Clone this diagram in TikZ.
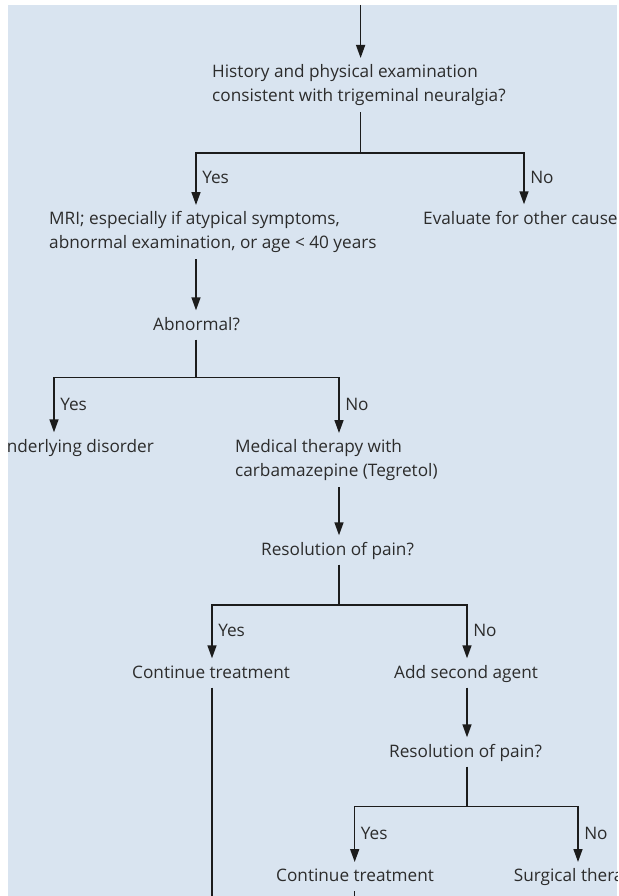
\documentclass[tikz,border=0pt]{standalone}
\usepackage{fontspec}
\setmainfont{Open Sans}
\usepackage{xcolor}
\usetikzlibrary{arrows.meta}
\definecolor{panelblue}{HTML}{D9E4F0}
\definecolor{textgray}{HTML}{2C2C2C}
\definecolor{linegray}{HTML}{1C1C1C}

\begin{document}
\begin{tikzpicture}[
  x=1pt, y=-1pt,
  every node/.style={font=\fontsize{17.2}{24.5}\selectfont, text=textgray, inner xsep=0pt},
  step1/.style={anchor=base west, text height=12.3pt, text depth=2.3pt, inner ysep=7.2pt},
  stepml/.style={anchor=north west, align=left, inner ysep=6pt},
  lbl/.style={anchor=west, xshift=5.5pt, text height=12.3pt, text depth=2.3pt, inner sep=0pt},
  line/.style={line width=1.5pt, draw=linegray},
  arr/.style={line, -{Triangle[length=13pt, width=9pt]}},
]
\useasboundingbox (0,0) rectangle (618,896);
\fill[white] (0,0) rectangle (618,896);
\fill[panelblue] (8,5) rectangle (617,896);

\begin{scope}
\clip (8,5) rectangle (617,896);

\node[stepml] (hist) at (212,58) {History and physical examination\\consistent with trigeminal neuralgia?};
\node[stepml] (mri) at (49,205) {MRI; especially if atypical symptoms,\\abnormal examination, or age < 40 years};
\node[step1] (other) at (423,224) {Evaluate for other cause};
\node[step1] (abn) at (153,330) {Abnormal?};
\node[step1, anchor=base east] (under) at (154,452) {nderlying disorder};
\node[stepml] (med) at (235,433) {Medical therapy with\\carbamazepine (Tegretol)};
\node[step1] (res1) at (261,555) {Resolution of pain?};
\node[step1] (cont1) at (132,678) {Continue treatment};
\node[step1] (add) at (394,678) {Add second agent};
\node[step1] (res2) at (389,757) {Resolution of pain?};
\node[step1] (cont2) at (276,881.7) {Continue treatment};
\node[step1] (surg) at (513.6,881.7) {Surgical thera};

\coordinate (top) at (360.6,5);
\coordinate (bot) at (0,896);
\coordinate (br1) at (360.6,153);
\coordinate (br1l) at (196,153);
\coordinate (br1r) at (524,153);
\coordinate (br2) at (196,377.7);
\coordinate (br2l) at (54,377.7);
\coordinate (br2r) at (339,377.7);
\coordinate (br3) at (339,605);
\coordinate (br3l) at (212,605);
\coordinate (br3r) at (467,605);
\coordinate (br4) at (467,806.7);
\coordinate (br4l) at (354.7,806.7);
\coordinate (br4r) at (578,806.7);

\draw[arr] (top) -- (top |- hist.north);
\draw[line] (hist.south -| br1) -- (br1);
\draw[arr] (br1) -- (br1l) -- node[lbl]{Yes} (br1l |- mri.north);
\draw[arr] (br1) -- (br1r) -- node[lbl]{No} (br1r |- other.north);

\draw[arr] (mri.south -| br2) -- (abn.north -| br2);
\draw[line] (abn.south -| br2) -- (br2);
\draw[arr] (br2) -- (br2l) -- node[lbl]{Yes} (br2l |- under.north);
\draw[arr] (br2) -- (br2r) -- node[lbl]{No} (br2r |- med.north);

\draw[arr] (med.south -| br3) -- (res1.north -| br3);
\draw[line] (res1.south -| br3) -- (br3);
\draw[arr] (br3) -- (br3l) -- node[lbl]{Yes} (br3l |- cont1.north);
\draw[arr] (br3) -- (br3r) -- node[lbl]{No} (br3r |- add.north);
\draw[line] (cont1.south -| br3l) -- (br3l |- bot);

\draw[arr] (add.south -| br4) -- (res2.north -| br4);
\draw[line] (res2.south -| br4) -- (br4);
\draw[arr] (br4) -- (br4l) -- node[lbl]{Yes} (br4l |- cont2.north);
\draw[arr] (br4) -- (br4r) -- node[lbl]{No} (br4r |- surg.north);
\draw[line] (cont2.south -| br4l) -- (br4l |- bot);
\end{scope}
\end{tikzpicture}
\end{document}
